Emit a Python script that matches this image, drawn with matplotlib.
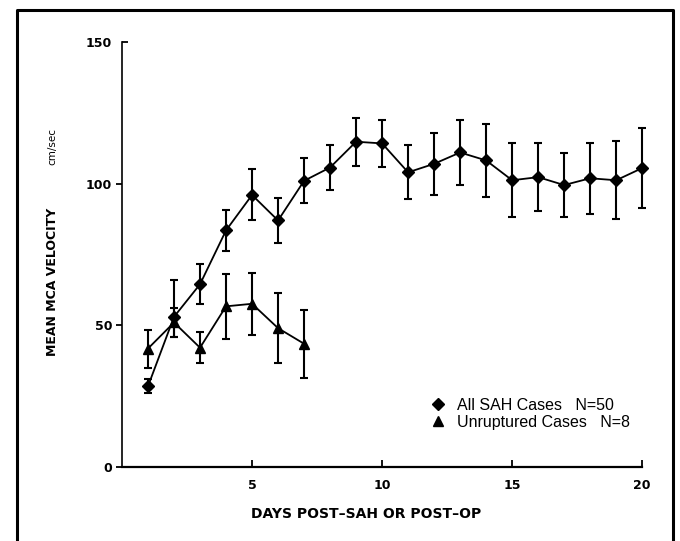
import numpy as np
import matplotlib.pyplot as plt
import matplotlib.lines as mlines

# All SAH cases, N=50
sah_days = np.arange(1, 21)
sah_mean = [28.5, 53, 64.5, 83.5, 96, 87, 101, 105.7, 114.8, 114.2,
            104, 107, 111, 108.2, 101.2, 102.3, 99.5, 101.9, 101.2, 105.5]
sah_err_lo = [2.5, 7, 7, 7.3, 9, 8, 8, 8, 8.5, 8.3,
              9.5, 11, 11.3, 13, 13, 12, 11.2, 12.6, 13.7, 14]
sah_err_hi = [2.5, 13, 7, 7.3, 9, 8, 8, 8, 8.5, 8.3,
              9.5, 11, 11.3, 13, 13, 12, 11.2, 12.6, 13.7, 14]

# Unruptured cases, N=8
unr_days = np.arange(1, 8)
unr_mean = [41.8, 51, 42.1, 56.7, 57.6, 49, 43.5]
unr_err = [6.7, 5, 5.5, 11.5, 11, 12.3, 12]

if __name__ == "__main__":
    fig = plt.figure(figsize=(6.8, 5.41), dpi=100)
    ax = fig.add_axes([0.1794, 0.1368, 0.765, 0.7856])

    for cont in [
        ax.errorbar(sah_days, sah_mean, yerr=[sah_err_lo, sah_err_hi], color="black",
                    marker="D", markersize=6.5, linewidth=1.3, elinewidth=1.5,
                    capsize=3, capthick=1.5),
        ax.errorbar(unr_days, unr_mean, yerr=unr_err, color="black",
                    marker="^", markersize=7.5, linewidth=1.3, elinewidth=1.5,
                    capsize=3, capthick=1.5),
    ]:
        for art in cont.get_children():
            art.set_clip_on(False)

    ax.set_xlim(0, 20)
    ax.set_ylim(0, 150)
    ax.set_xticks([5, 10, 15, 20])
    ax.set_yticks([0, 50, 100, 150])
    for s in ["top", "right"]:
        ax.spines[s].set_visible(False)
    ax.spines["left"].set_linewidth(1.2)
    ax.spines["bottom"].set_linewidth(1.6)
    ax.tick_params(axis="x", direction="in", length=5, width=1.3, pad=9,
                   labelsize=9)
    ax.tick_params(axis="y", direction="out", length=4, width=1.3, pad=3,
                   labelsize=9)
    # top y tick points inward like the original
    ax.yaxis.get_major_ticks()[-1].tick1line.set_marker(mlines.TICKRIGHT)
    for lab in ax.get_xticklabels() + ax.get_yticklabels():
        lab.set_fontweight("bold")

    ax.set_xlabel("DAYS POST\u2013SAH OR POST\u2013OP", fontsize=10,
                  fontweight="bold")
    ax.xaxis.set_label_coords(0.469, -0.094)
    fig.text(0.0765, 0.479, "MEAN MCA VELOCITY", rotation=90, fontsize=9,
             fontweight="bold", ha="center", va="center")
    fig.text(0.0765, 0.730, "cm/sec", rotation=90, fontsize=7.5,
             ha="center", va="center")

    h1 = mlines.Line2D([], [], color="black", marker="D", markersize=6,
                       linestyle="none")
    h2 = mlines.Line2D([], [], color="black", marker="^", markersize=7,
                       linestyle="none")
    ax.legend([h1, h2], ["All SAH Cases   N=50", "Unruptured Cases   N=8"],
              loc="lower left", bbox_to_anchor=(0.567, 0.054), frameon=False,
              handlelength=0.8, handletextpad=0.8, labelspacing=0.12,
              prop={"family": "Liberation Sans", "size": 11.5})

    # outer frame (left, top, right)
    fig.add_artist(mlines.Line2D([0.025, 0.025, 0.9897, 0.9897],
                                 [0.0, 0.9815, 0.9815, 0.0],
                                 color="black", linewidth=2.2,
                                 transform=fig.transFigure))

    fig.savefig("out.png", dpi=100)
